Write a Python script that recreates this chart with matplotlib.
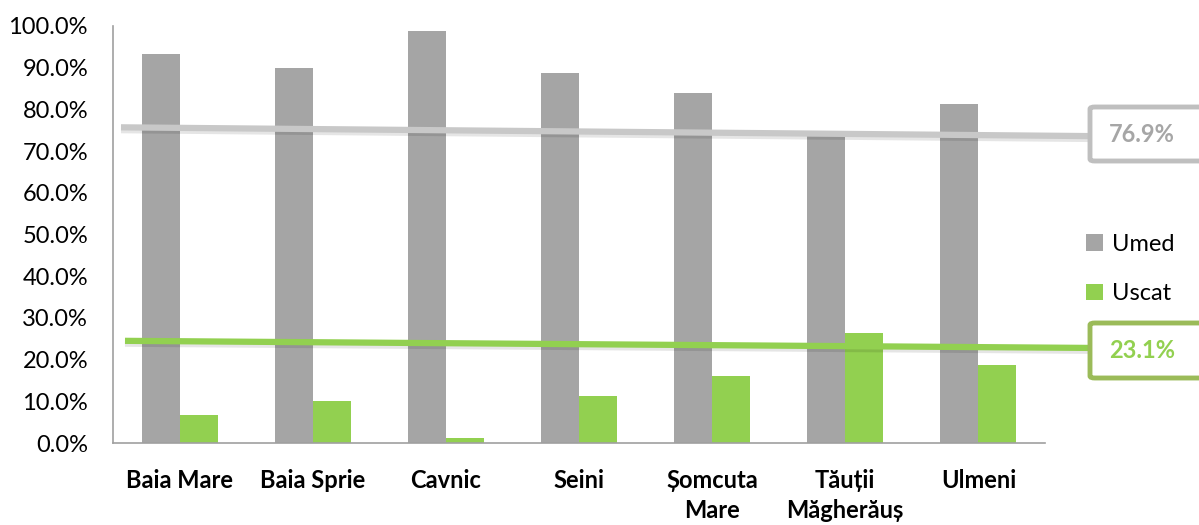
import matplotlib.pyplot as plt
import matplotlib.patches as mpatches
import numpy as np

plt.rcParams['font.family'] = ['Lato', 'DejaVu Sans']

categories = ["Baia Mare", "Baia Sprie", "Cavnic", "Seini", "Șomcuta\nMare",
              "Tăuții\nMăgherăuș", "Ulmeni"]
umed = [93.3, 90.0, 98.7, 88.7, 83.9, 73.6, 81.2]
uscat = [6.7, 10.0, 1.3, 11.3, 16.1, 26.4, 18.8]

# overall shares shown in the boxes, and the drawn average lines (start, end)
total_umed = 76.9
total_uscat = 23.1
line_umed = [75.7, 73.6]
line_uscat = [24.5, 22.8]

gray = "#a5a5a5"
green = "#92d050"

W, H = 1199, 525
fig = plt.figure(figsize=(W / 100, H / 100), dpi=100)
ax = fig.add_axes([113 / W, 1 - 443 / H, (1045 - 113) / W, (443 - 26) / H])

x = np.arange(len(categories))
bw = 0.285
ax.bar(x - bw / 2, umed, bw, color=gray, label="Umed", zorder=2)
ax.bar(x + bw / 2, uscat, bw, color=green, label="Uscat", zorder=2)

ax.set_xlim(-0.5, len(categories) - 0.5)
ax.set_ylim(0, 100)
ax.set_yticks(np.arange(0, 101, 10))
ax.set_yticklabels([f"{v:.1f}%" for v in range(0, 101, 10)], fontsize=17)
ax.set_xticks(x)
ax.set_xticklabels(categories, fontsize=17, fontweight="bold", linespacing=1.35)
ax.tick_params(axis="both", length=0)
ax.tick_params(axis="y", pad=18)
ax.tick_params(axis="x", pad=19)

for s in ["top", "right"]:
    ax.spines[s].set_visible(False)
ax.spines["left"].set_color("#a0a0a0")
ax.spines["bottom"].set_color("#a0a0a0")
ax.spines["left"].set_linewidth(1.2)
ax.spines["bottom"].set_linewidth(1.2)

# average lines that run out to the value boxes
x_end = (1089 - 113) / 133.14 - 0.5
for xs, vals, col in [((-0.44, x_end), line_umed, "#c8c8c8"),
                      ((-0.41, x_end), line_uscat, "#92d050")]:
    ax.plot(xs, [vals[0] - 0.6, vals[1] - 0.6], color="#000000", alpha=0.10,
            lw=5, clip_on=False, zorder=3, solid_capstyle="butt")
    ax.plot(xs, vals, color=col, lw=4.5, clip_on=False, zorder=4,
            solid_capstyle="butt")

# value boxes on the right
for y0, y1, txt, ec, tc in [(107, 161, f"{total_umed:.1f}%", "#bfbfbf", "#a6a6a6"),
                            (323, 378, f"{total_uscat:.1f}%", "#9bbb59", "#92d050")]:
    rect = mpatches.FancyBboxPatch((1090 / W, 1 - y1 / H), 130 / W, (y1 - y0) / H,
                                   boxstyle="round,pad=0,rounding_size=0.004",
                                   transform=fig.transFigure, facecolor="white",
                                   edgecolor=ec, lw=3.5, zorder=5)
    fig.patches.append(rect)
    t = fig.text(1142 / W, 1 - (y0 + y1) / 2 / H, txt, ha="center", va="center",
                 fontsize=17, fontweight="bold", color=tc)
    t.set_zorder(6)

fig.legend(loc="center left", bbox_to_anchor=(1065 / W, 1 - 269 / H),
           frameon=False, fontsize=17, handlelength=0.7, handleheight=0.7,
           labelspacing=1.2, handletextpad=0.4)

fig.savefig("out.png", dpi=100)
